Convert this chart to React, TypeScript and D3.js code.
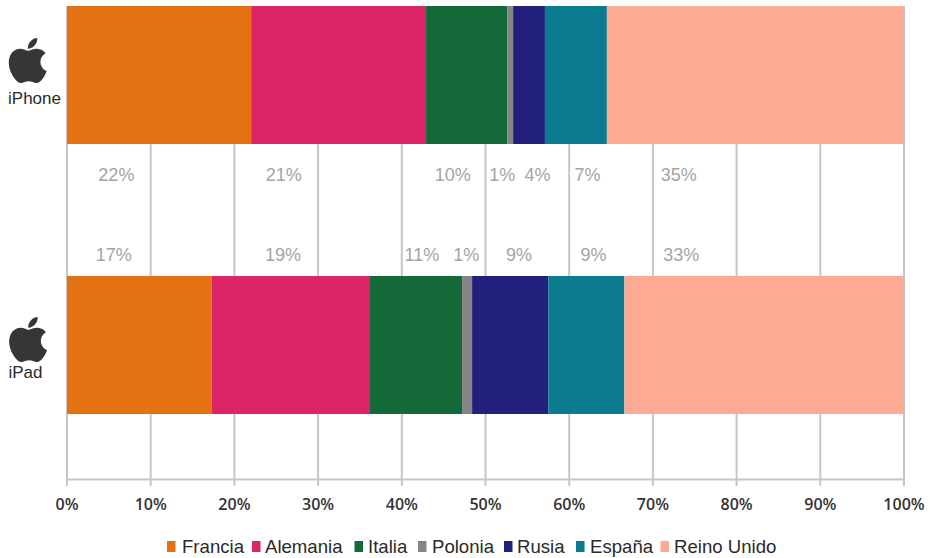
import React from "react";
import * as d3 from "d3";

const countries = ["Francia", "Alemania", "Italia", "Polonia", "Rusia", "España", "Reino Unido"];
const colors = ["#e57212", "#dc2566", "#136a38", "#858585", "#231f7c", "#0b7b90", "#fdaa95"];
const devices = ["iPhone", "iPad"];
const iphoneValues = [22, 20.9, 9.7, 0.7, 3.8, 7.4, 35.5];
const ipadValues = [17.3, 18.9, 11.0, 1.2, 9.1, 9.1, 33.4];
const iphoneLabels = ["22%", "21%", "10%", "1%", "4%", "7%", "35%"];
const ipadLabels = ["17%", "19%", "11%", "1%", "9%", "9%", "33%"];
const iphoneLabelAt = [5.9, 25.9, 46.1, 52, 56.2, 62.2, 73.1];
const ipadLabelAt = [5.6, 25.8, 42.4, 47.7, 54, 62.9, 73.4];
const ticks = [0, 10, 20, 30, 40, 50, 60, 70, 80, 90, 100];
const legendSwatchX = [167, 252, 354.5, 418, 504, 576, 660.5];
const legendTextX = [182, 265, 368, 432, 517, 590, 674];

const APPLE = "M17.05 20.28c-.98.95-2.05.8-3.08.35-1.09-.46-2.09-.48-3.24 0-1.44.62-2.2.44-3.06-.35C2.79 15.25 3.51 7.59 9.05 7.31c1.35.07 2.29.74 3.08.8 1.18-.24 2.31-.93 3.57-.84 1.51.12 2.65.72 3.4 1.8-3.12 1.87-2.38 5.98.48 7.13-.57 1.5-1.31 2.99-2.54 4.09zM12.03 7.25c-.15-2.23 1.66-4.07 3.74-4.25.29 2.58-2.34 4.5-3.74 4.25z";

export default function App() {
  const x = d3.scaleLinear().domain([0, 100]).range([67, 904]);
  const y = d3.scaleBand().domain(devices).range([6, 414]).paddingInner(132 / 270).paddingOuter(0);
  const rows = [
    { device: "iPhone", values: iphoneValues, labels: iphoneLabels, at: iphoneLabelAt, labelY: 181, logo: [-2.2, 30.5], nameX: 34.5, nameY: 104 },
    { device: "iPad", values: ipadValues, labels: ipadLabels, at: ipadLabelAt, labelY: 261, logo: [-1.8, 309.5], nameX: 25.5, nameY: 378 },
  ];
  const stack = (vals: number[]) => {
    const ends = d3.cumsum(vals);
    return vals.map((v, i) => [ends[i] - v, ends[i]]);
  };
  const grid = "#c6c6c6";
  return (
    <svg width={931} height={558} style={{ position: "absolute", left: 0, top: 0, background: "#fff" }}>
      {ticks.map((t) => (
        <line key={t} x1={x(t)} x2={x(t)} y1={6} y2={486} stroke={grid} strokeWidth={2} />
      ))}
      <line x1={66} x2={905} y1={479.5} y2={479.5} stroke={grid} strokeWidth={2} />
      {rows.map((r) =>
        stack(r.values).map(([a, b], i) => (
          <rect key={r.device + i} x={x(a)} y={y(r.device)} width={x(b) - x(a)} height={y.bandwidth()} fill={colors[i]} />
        ))
      )}
      {rows.map((r) =>
        r.labels.map((l, i) => (
          <text key={r.device + l + i} x={x(r.at[i])} y={r.labelY} textAnchor="middle" fontFamily="Liberation Sans" fontSize={18} fill="#a4a4a4">
            {l}
          </text>
        ))
      )}
      {rows.map((r) => (
        <g key={r.device}>
          <path d={APPLE} transform={`translate(${r.logo[0]},${r.logo[1]}) scale(2.5)`} fill="#343637" />
          <text x={r.nameX} y={r.nameY} textAnchor="middle" fontFamily="Liberation Sans" fontSize={17} fill="#2a2a2a">
            {r.device}
          </text>
        </g>
      ))}
      {ticks.map((t) => (
        <text key={t} x={x(t)} y={510} textAnchor="middle" fontFamily="Open Sans" fontSize={16} fontWeight={600} fill="#333">
          {t}%
        </text>
      ))}
      {countries.map((c, i) => (
        <g key={c}>
          <rect x={legendSwatchX[i]} y={541} width={8.5} height={11} fill={colors[i]} />
          <text x={legendTextX[i]} y={553} fontFamily="Liberation Sans" fontSize={18.6} fill="#2a2a2a">
            {c}
          </text>
        </g>
      ))}
    </svg>
  );
}
